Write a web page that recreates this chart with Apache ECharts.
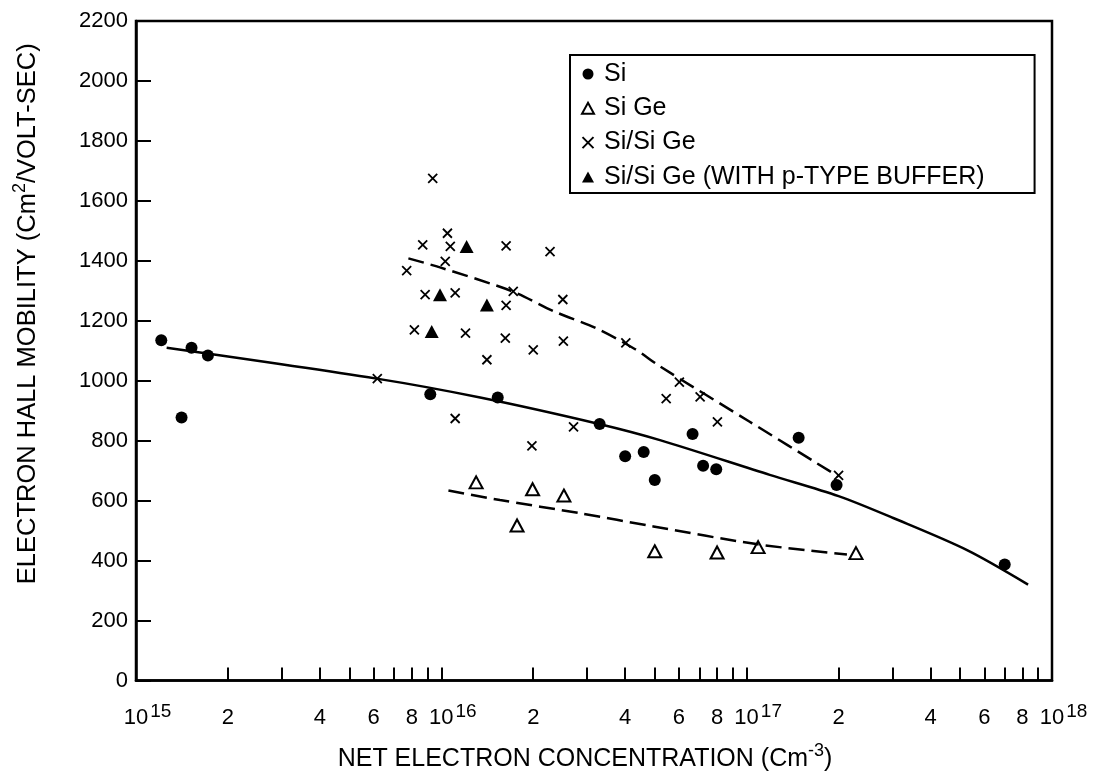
<!DOCTYPE html>
<html>
<head>
<meta charset="utf-8">
<script src="https://cdn.jsdelivr.net/npm/echarts@6/dist/echarts.min.js"></script>
<style>html,body{margin:0;padding:0;background:#fff}#c{width:1095px;height:777px}</style>
</head>
<body>
<div id="c"></div>
<script>
// ---- data (concentration in cm^-3, mobility in cm^2/V-s) ----
const siConc = [1.21e15, 1.41e15, 1.52e15, 1.72e15, 9.2e15, 1.53e16, 3.3e16, 4.0e16, 4.6e16, 5.0e16, 6.65e16, 7.2e16, 7.95e16, 1.48e17, 1.97e17, 7.0e17];
const siMob  = [1135, 877, 1110, 1084, 955, 944, 856, 748, 762, 669, 822, 716, 705, 810, 652, 387];

const sigeConc = [1.3e16, 1.77e16, 1.99e16, 2.52e16, 5.0e16, 8.0e16, 1.09e17, 2.28e17];
const sigeMob  = [661, 517, 638, 617, 431, 427, 445, 425];

const hetConc = [9.37e15, 1.047e16, 8.69e15, 1.07e16, 1.63e16, 2.27e16, 1.03e16, 7.7e15, 8.85e15, 1.11e16,
                 1.72e16, 2.5e16, 1.63e16, 8.16e15, 1.2e16, 1.62e16, 2.51e16, 2.0e16, 1.41e16, 4.02e16,
                 6.17e15, 1.11e16, 2.71e16, 1.98e16, 6.02e16, 5.45e16, 7.04e16, 8.02e16, 2.0e17];
const hetMob  = [1675, 1492, 1453, 1448, 1450, 1431, 1398, 1367, 1287, 1293,
                 1298, 1271, 1251, 1170, 1159, 1142, 1132, 1103, 1070, 1126,
                 1007, 874, 846, 783, 995, 940, 946, 863, 684];

const bufConc = [1.21e16, 9.9e15, 1.41e16, 9.3e15];
const bufMob  = [1448, 1287, 1253, 1164];

// fitted curves
const siFitConc = [1.26e15, 6.14e15, 1.34e16, 3.31e16, 5.2e16, 1.19e17, 2.0e17, 3.02e17, 5.27e17, 8.35e17];
const siFitMob  = [1110, 1007, 944, 855, 802, 686, 615, 542, 435, 320];
const hetFitConc = [7.8e15, 9.9e15, 1.72e16, 2.33e16, 3.2e16, 4.3e16, 5.2e16, 1.02e17, 2.0e17];
const hetFitMob  = [1408, 1378, 1297, 1232, 1176, 1106, 1048, 864, 680];
const sigeFitConc = [1.055e16, 1.556e16, 2.85e16, 4.95e16, 1.075e17, 2.13e17];
const sigeFitMob  = [634, 602, 558, 514, 455, 420];

// axis ticks
const decades = [15, 16, 17];
const lastDecade = 18;
const tickMantissas = [1, 2, 3, 4, 5, 6, 7, 8, 9];
const labelMantissas = [1, 2, 4, 6, 8];
const yMin = 0, yMax = 2200, yStep = 200;

const legendNames = ['Si', 'Si Ge', 'Si/Si Ge', 'Si/Si Ge (WITH p-TYPE BUFFER)'];

// ---- build ----
const FONT = 'Liberation Sans';
const lg = v => Math.log10(v);
const pts = (xs, ys) => xs.map((x, i) => [lg(x), ys[i]]);
const tickValues = [];
decades.forEach(d => tickMantissas.forEach(m => tickValues.push(d + lg(m))));
tickValues.push(lastDecade);
const labelValues = [];
decades.forEach(d => labelMantissas.forEach(m => labelValues.push(d + lg(m))));

function xLabel(v) {
  const k = Math.floor(v + 1e-9);
  const m = Math.round(Math.pow(10, v - k));
  if (m === 1) return '{p|}{b|10}{s|' + k + '}';
  return '{n|' + m + '}';
}
const xRich = {
  n: {fontFamily: FONT, fontSize: 22, lineHeight: 30, color: '#000'},
  b: {fontFamily: FONT, fontSize: 22, lineHeight: 30, color: '#000'},
  s: {fontFamily: FONT, fontSize: 19, lineHeight: 10, verticalAlign: 'top', color: '#000', padding: [0, 0, 0, 2]},
  p: {width: 23, height: 10}
};

const chart = echarts.init(document.getElementById('c'), null, {renderer: 'canvas'});
const cross = 'path://M0,0L10,10M10,0L0,10';

const option = {
  animation: false,
  backgroundColor: '#fff',
  textStyle: {fontFamily: FONT, color: '#000'},
  grid: {left: 136, right: 43, top: 21, bottom: 94, show: true, borderColor: '#000', borderWidth: 2.5, backgroundColor: 'transparent'},
  legend: {
    orient: 'vertical', left: 570, top: 55,
    padding: [6.5, 50, 3.5, 11],
    itemWidth: 12, itemHeight: 11, itemGap: 9.3,
    borderColor: '#000', borderWidth: 2, borderRadius: 0,
    selectedMode: false, symbolKeepAspect: true,
    textStyle: {fontFamily: FONT, fontSize: 25, color: '#000', padding: [0, 0, 0, 5]},
    data: legendNames
  },
  xAxis: [{
    type: 'value', min: 15, max: 18, position: 'bottom',
    name: '{t|NET ELECTRON CONCENTRATION (Cm}{u|-3}{t|)}',
    nameLocation: 'middle', nameGap: 62,
    nameTextStyle: {
      padding: [0, 18, 0, 0],
      rich: {
        t: {fontFamily: FONT, fontSize: 25, lineHeight: 34, color: '#000'},
        u: {fontFamily: FONT, fontSize: 18, lineHeight: 12, verticalAlign: 'top', color: '#000'}
      }
    },
    axisLine: {show: true, onZero: false, lineStyle: {color: '#000', width: 2.5}},
    axisTick: {show: true, inside: true, length: 13, customValues: tickValues, lineStyle: {color: '#000', width: 2}},
    axisLabel: {
      customValues: labelValues, margin: 22, showMinLabel: true, showMaxLabel: true, hideOverlap: false,
      formatter: xLabel, rich: xRich
    },
    splitLine: {show: false}
  }, {
    // carries only the 10^18 end label so it is not hidden by overlap checks
    type: 'value', min: 15, max: 18, position: 'bottom',
    axisLine: {show: false, onZero: false}, axisTick: {show: false}, splitLine: {show: false},
    axisLabel: {customValues: [lastDecade], margin: 22, showMinLabel: true, showMaxLabel: true, formatter: xLabel, rich: xRich}
  }],
  yAxis: {
    type: 'value', min: yMin, max: yMax, interval: yStep,
    name: '{t|ELECTRON HALL MOBILITY (Cm}{u|2}{t|/VOLT-SEC)}',
    nameLocation: 'middle', nameGap: 91, nameRotate: 90,
    nameTextStyle: {
      padding: [0, 0, 0, 74],
      rich: {
        t: {fontFamily: FONT, fontSize: 25.5, lineHeight: 34, color: '#000'},
        u: {fontFamily: FONT, fontSize: 18, lineHeight: 12, verticalAlign: 'top', color: '#000'}
      }
    },
    axisLine: {show: true, onZero: false, lineStyle: {color: '#000', width: 2.5}},
    axisTick: {show: true, inside: true, length: 15, lineStyle: {color: '#000', width: 2}},
    axisLabel: {fontFamily: FONT, fontSize: 22, color: '#000', margin: 8, formatter: v => String(v)},
    splitLine: {show: false}
  },
  series: [
    {name: 'fitSi', type: 'line', data: pts(siFitConc, siFitMob), showSymbol: false, smooth: 0.3, silent: true, z: 2,
     lineStyle: {color: '#000', width: 2.5}},
    {name: 'fitHet', type: 'line', data: pts(hetFitConc, hetFitMob), showSymbol: false, smooth: 0.3, silent: true, z: 2,
     lineStyle: {color: '#000', width: 2.5, type: [16, 7]}},
    {name: 'fitSiGe', type: 'line', data: pts(sigeFitConc, sigeFitMob), showSymbol: false, smooth: 0.3, silent: true, z: 2,
     lineStyle: {color: '#000', width: 2.5, type: [16, 7]}},
    {name: legendNames[0], type: 'scatter', data: pts(siConc, siMob), symbol: 'circle', symbolSize: 12, z: 5,
     itemStyle: {color: '#000', opacity: 1}},
    {name: legendNames[1], type: 'scatter', data: pts(sigeConc, sigeMob), symbol: 'triangle', symbolSize: [13, 12], z: 5,
     itemStyle: {color: 'rgba(0,0,0,0)', borderColor: '#000', borderWidth: 2, opacity: 1}},
    {name: legendNames[2], type: 'scatter', data: pts(hetConc, hetMob), symbol: cross, symbolSize: 9, z: 5,
     itemStyle: {color: '#000', borderColor: '#000', borderWidth: 1.8, opacity: 1}},
    {name: legendNames[3], type: 'scatter', data: pts(bufConc, bufMob), symbol: 'triangle', symbolSize: [14, 13], z: 5,
     itemStyle: {color: '#000', opacity: 1}}
  ]
};
chart.setOption(option);
</script>
</body>
</html>
